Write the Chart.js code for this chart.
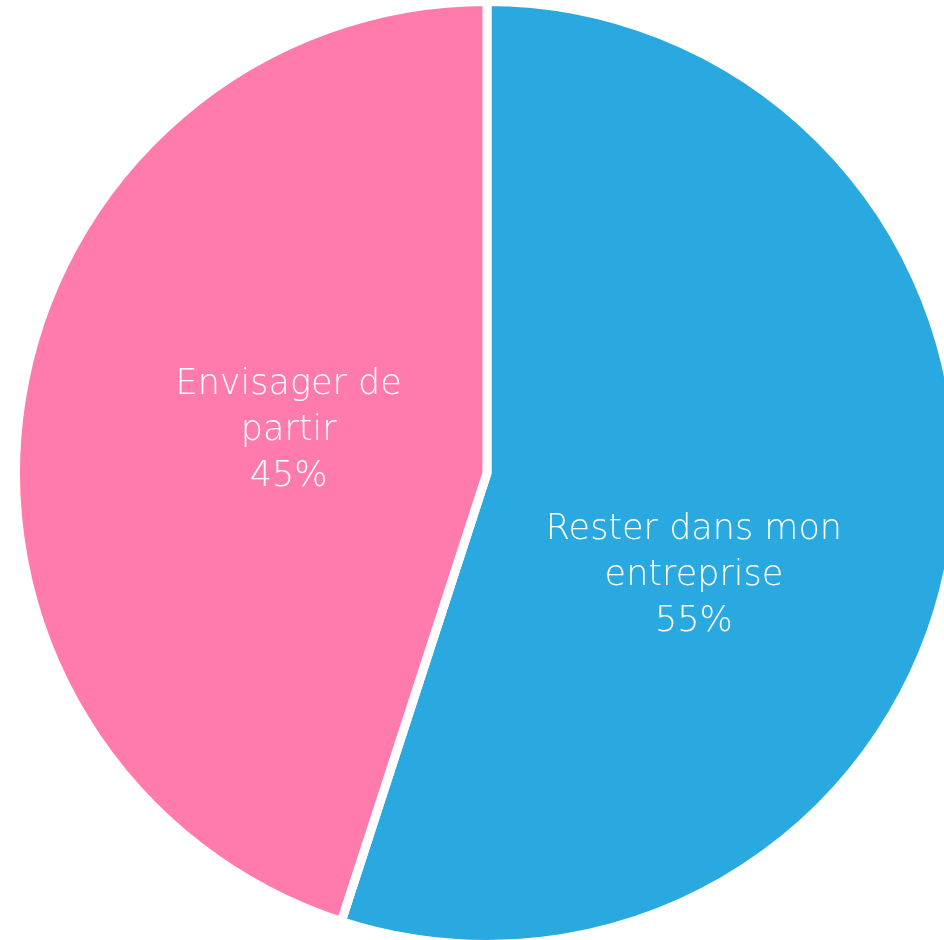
<!DOCTYPE html>
<html>
<head>
<meta charset="utf-8">
<script src="https://cdn.jsdelivr.net/npm/chart.js@4/dist/chart.umd.min.js"></script>
<style>
  html, body { margin: 0; padding: 0; background: #fff; overflow: hidden; width: 944px; height: 940px; }
  #wrap { position: absolute; left: 11px; top: -3px; width: 952px; height: 952px; }
</style>
</head>
<body>
<div id="wrap"><canvas id="graph"></canvas></div>
<script>
const labels = [['Rester dans mon', 'entreprise'], ['Envisager de', 'partir']];
const values = [55, 45];
const colors = ['#29A9E0', '#FF7BAC'];

// where each label sits: fraction of radius and angle shift (degrees) from the slice middle
const labelPlace = [{ r: 0.49, shift: 17.4 }, { r: 0.43, shift: 3 }];

const sliceLabels = {
    id: 'sliceLabels',
    afterDatasetsDraw(chart) {
        const ctx = chart.ctx;
        const meta = chart.getDatasetMeta(0);
        ctx.save();
        ctx.fillStyle = '#ffffff';
        ctx.font = '200 35px "DejaVu Sans"';
        ctx.textAlign = 'center';
        ctx.textBaseline = 'middle';
        meta.data.forEach((arc, i) => {
            const p = arc.getProps(['x', 'y', 'startAngle', 'endAngle', 'outerRadius'], true);
            const mid = (p.startAngle + p.endAngle) / 2 + labelPlace[i].shift * Math.PI / 180;
            const d = p.outerRadius * labelPlace[i].r;
            const cx = p.x + Math.cos(mid) * d;
            const cy = p.y + Math.sin(mid) * d;
            const lines = labels[i].concat([values[i] + '%']);
            const lh = 46;
            lines.forEach((t, j) => {
                ctx.fillText(t, cx, cy + (j - (lines.length - 1) / 2) * lh);
            });
        });
        ctx.restore();
    }
};

const myChart = new Chart(document.getElementById('graph').getContext('2d'), {
    type: 'pie',
    data: {
        labels: labels.map(l => l.join(' ')),
        datasets: [{
            data: values,
            backgroundColor: colors,
            borderColor: '#ffffff',
            borderWidth: 9
        }]
    },
    options: {
        responsive: true,
        maintainAspectRatio: true,
        animation: false,
        events: [],
        plugins: {
            legend: { display: false },
            tooltip: { enabled: false }
        }
    },
    plugins: [sliceLabels]
});
</script>
</body>
</html>
